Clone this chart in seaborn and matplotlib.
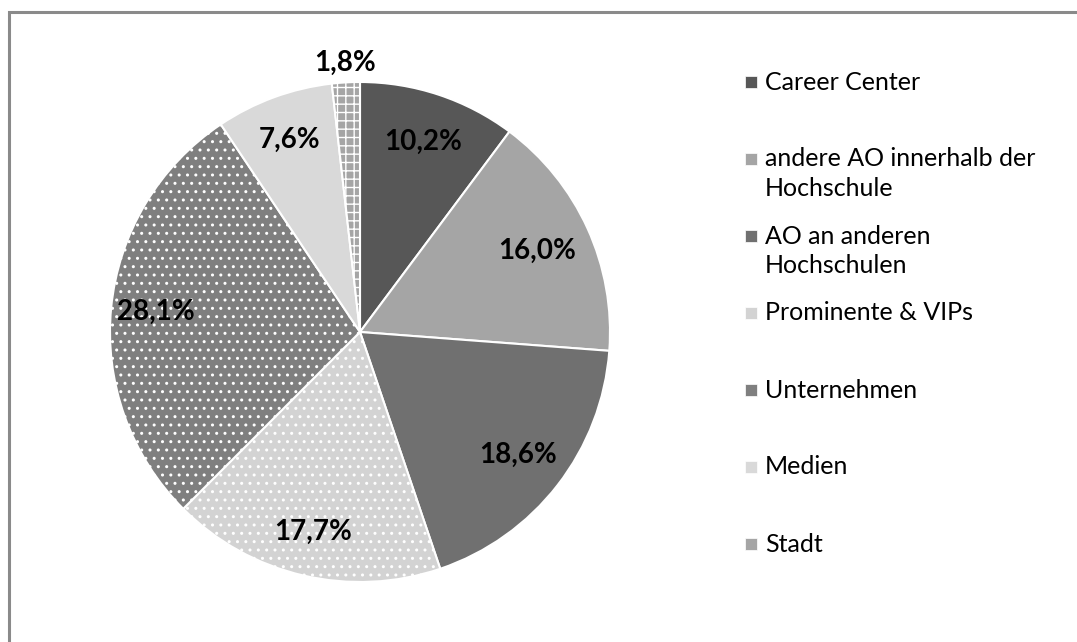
import matplotlib
matplotlib.use("Agg")
import matplotlib.pyplot as plt
import seaborn as sns
import numpy as np
from matplotlib.patches import Rectangle

categories = ["Career Center", "andere AO innerhalb der\nHochschule", "AO an anderen\nHochschulen",
              "Prominente & VIPs", "Unternehmen", "Medien", "Stadt"]
values = [10.2, 16.0, 18.6, 17.7, 28.1, 7.6, 1.8]
value_labels = ["10,2%", "16,0%", "18,6%", "17,7%", "28,1%", "7,6%", "1,8%"]
face_colors = ["#575757", "#a5a5a5", "#707070", "#d3d3d3", "#7f7f7f", "#d9d9d9", "#a5a5a5"]
hatches = [None, None, None, "..", "..", None, "++"]
label_dist = [0.8, 0.78, 0.8, 0.82, 0.82, 0.82, 1.08]

sns.set_theme(style="white")
plt.rcParams["font.family"] = ["Lato", "DejaVu Sans"]
plt.rcParams["hatch.linewidth"] = 1.0

W, H = 1077, 642
fig = plt.figure(figsize=(W / 100, H / 100), dpi=100)
fig.patch.set_facecolor("white")

# outer frame (extends beyond right/bottom edges)
fig.patches.append(Rectangle((8.5 / W, -0.1), 1.2, (1 - 11.5 / H) + 0.1,
                             transform=fig.transFigure, fill=False,
                             edgecolor="#8a8a8a", linewidth=2.2))

R_PX = 250
cx, cy = 360, 332
ax = fig.add_axes([(cx - R_PX) / W, (H - cy - R_PX) / H, 2 * R_PX / W, 2 * R_PX / H])
wedges, _ = ax.pie(values, startangle=90, counterclock=False, colors=face_colors,
                   wedgeprops=dict(edgecolor="white", linewidth=1.5), frame=False)
for w, h in zip(wedges, hatches):
    if h:
        w.set_hatch(h)
ax.set_xlim(-1, 1)
ax.set_ylim(-1, 1)
ax.axis("off")

for w, lab, d in zip(wedges, value_labels, label_dist):
    mid = np.deg2rad((w.theta1 + w.theta2) / 2)
    ax.text(d * np.cos(mid), d * np.sin(mid), lab, ha="center", va="center",
            fontsize=20, fontweight="bold", color="black")

# legend
y0, step, line_h = 82, 77, 30
for i, (cat, col, h) in enumerate(zip(categories, face_colors, hatches)):
    yc = y0 + step * i
    fig.patches.append(Rectangle((745 / W, 1 - (yc + 6) / H), 12 / W, 12 / H,
                                 transform=fig.transFigure, facecolor=col,
                                 edgecolor="white", linewidth=0.5))
    for j, line in enumerate(cat.split("\n")):
        fig.text(765 / W, 1 - (yc + j * line_h) / H, line, ha="left", va="center",
                 fontsize=18, color="black")

fig.savefig("out.png", dpi=100, facecolor="white")
